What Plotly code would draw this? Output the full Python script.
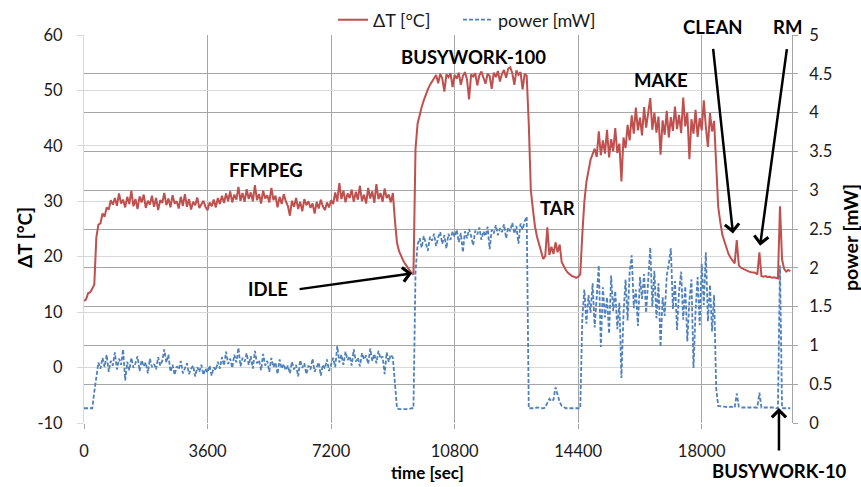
import plotly.graph_objects as go

# ---------------- data ----------------
SAMPLE_SEC = 60  # one reading every 60 s

delta_t = [
    12.0, 12.3, 13.4, 13.6, 14.2, 15.0, 23.5, 25.8, 26.0, 27.8, 27.2, 28.9, 28.5, 30.2, 29.4, 30.6, 29.2, 31.4, 29.6, 30.3,
    28.9, 30.8, 29.5, 31.9, 29.1, 30.4, 28.6, 30.9, 29.8, 31.2, 28.8, 30.1, 29.4, 31.0, 29.0, 30.6, 28.4, 30.2, 29.7, 31.5,
    29.3, 30.5, 28.9, 31.1, 29.6, 30.0, 28.7, 30.8, 29.2, 31.3, 29.0, 30.4, 28.5, 29.9, 29.3, 30.7, 28.8, 29.6, 30.1, 29.0,
    28.4, 29.8, 29.1, 30.3, 28.9, 30.6, 29.5, 31.0, 29.7, 31.4, 30.0, 31.8, 29.8, 31.2, 30.3, 32.6, 30.1, 31.5, 29.9, 32.2,
    30.4, 31.6, 30.0, 32.9, 30.2, 31.3, 29.6, 31.9, 30.5, 31.1, 29.8, 32.4, 30.2, 31.0, 28.9, 30.8, 29.5, 31.3, 30.0, 29.2,
    27.4, 30.1, 29.0, 30.6, 28.6, 29.9, 28.2, 30.4, 29.3, 30.0, 28.8, 29.6, 27.8, 29.9, 28.7, 30.3, 29.1, 28.4, 29.8, 28.9,
    30.2, 29.5, 31.6, 30.0, 33.3, 30.4, 31.9, 29.8, 31.4, 30.6, 32.1, 29.9, 31.7, 30.3, 32.8, 30.0, 31.2, 29.6, 32.4, 30.5,
    31.8, 29.7, 33.1, 30.4, 31.5, 29.9, 32.3, 30.6, 31.2, 29.8, 31.5, 26.5, 22.5, 21.0, 20.0, 19.3, 18.7, 18.1, 17.6, 17.1,
    16.8, 39.5, 44.0, 45.8, 47.0, 48.2, 49.3, 50.2, 51.0, 51.7, 52.2, 52.8, 51.3, 53.0, 52.2, 49.8, 52.9, 52.4, 53.1, 50.6,
    52.8, 52.1, 53.2, 51.0, 52.6, 53.3, 52.0, 48.4, 52.9, 52.5, 53.1, 50.9, 52.7, 53.4, 52.2, 51.2, 53.0, 52.6, 50.3, 53.2,
    52.4, 53.5, 51.6, 53.0, 53.7, 52.3, 53.9, 54.2, 53.1, 51.0, 53.6, 52.8, 53.3, 50.2, 53.0, 52.6, 44.0, 32.0, 28.6, 25.5,
    23.6, 22.2, 21.0, 19.6, 20.1, 25.3, 20.3, 21.8, 20.5, 22.6, 20.8, 22.2, 19.0, 18.2, 17.6, 17.1, 16.8, 16.5, 16.4, 16.2,
    16.4, 16.8, 24.0, 30.0, 33.5, 35.5, 37.5, 38.5, 39.5, 38.0, 42.6, 38.3, 41.0, 38.6, 42.9, 37.9, 41.2, 39.0, 43.2, 38.7,
    40.4, 33.6, 41.5, 39.6, 43.8, 41.0, 45.5, 42.2, 46.9, 42.8, 45.1, 41.9, 47.0, 43.3, 45.6, 48.6, 42.9, 46.0, 42.4, 45.3,
    38.4, 44.6, 42.0, 46.3, 41.5, 45.2, 42.7, 47.1, 43.0, 45.6, 42.3, 48.7, 43.5, 46.0, 37.6, 44.8, 42.2, 46.5, 41.6, 45.0,
    42.8, 48.2, 43.4, 39.8, 45.9, 42.6, 44.5, 37.0, 29.0, 26.3, 24.0, 22.8, 21.5, 20.5, 19.8, 19.3, 18.8, 23.0, 18.5, 18.0,
    17.8, 17.6, 17.5, 17.3, 17.2, 17.2, 17.1, 16.8, 20.8, 16.5, 16.4, 16.5, 16.3, 16.4, 16.2, 16.3, 16.2, 16.1, 29.1, 19.5,
    17.8, 17.3, 17.6, 17.4,
]

power_mw = [
    0.19, 0.19, 0.19, 0.19, 0.19, 0.40, 0.62, 0.78, 0.70, 0.84, 0.72, 0.88, 0.66, 0.80, 0.74, 0.91, 0.69, 0.83, 0.75, 0.95,
    0.55, 0.79, 0.68, 0.84, 0.71, 0.77, 0.86, 0.67, 0.81, 0.73, 0.78, 0.64, 0.83, 0.72, 0.76, 0.69, 0.85, 0.74, 0.80, 0.95,
    0.78, 0.88, 0.66, 0.75, 0.62, 0.73, 0.69, 0.80, 0.64, 0.71, 0.77, 0.63, 0.70, 0.74, 0.60, 0.72, 0.66, 0.75, 0.62, 0.70,
    0.65, 0.74, 0.61, 0.72, 0.68, 0.79, 0.70, 0.85, 0.74, 0.92, 0.76, 0.83, 0.71, 0.88, 0.78, 0.97, 0.73, 0.84, 0.79, 0.90,
    0.75, 0.86, 0.70, 0.93, 0.77, 0.81, 0.68, 0.89, 0.74, 0.80, 0.66, 0.84, 0.72, 0.78, 0.63, 0.82, 0.70, 0.76, 0.68, 0.74,
    0.64, 0.79, 0.69, 0.75, 0.60, 0.81, 0.71, 0.77, 0.63, 0.74, 0.69, 0.83, 0.66, 0.72, 0.78, 0.61, 0.75, 0.70, 0.82, 0.67,
    0.76, 0.84, 0.72, 0.99, 0.78, 0.88, 0.75, 0.92, 0.81, 0.86, 0.74, 0.95, 0.79, 0.84, 0.73, 0.90, 0.82, 0.87, 0.76, 0.96,
    0.80, 0.89, 0.77, 0.93, 0.83, 0.86, 0.63, 0.91, 0.79, 0.88, 0.84, 0.45, 0.19, 0.18, 0.18, 0.18, 0.18, 0.18, 0.18, 0.19,
    0.19, 1.95, 2.30, 2.38, 2.26, 2.41, 2.33, 2.22, 2.40, 2.35, 2.44, 2.28, 2.39, 2.46, 2.31, 2.42, 2.25, 2.44, 2.36, 2.47,
    2.40, 2.49, 2.33, 2.45, 2.20, 2.47, 2.38, 2.50, 2.41, 2.29, 2.48, 2.43, 2.52, 2.36, 2.47, 2.41, 2.53, 2.24, 2.49, 2.44,
    2.55, 2.42, 2.51, 2.46, 2.56, 2.38, 2.52, 2.47, 2.58, 2.44, 2.54, 2.31, 2.57, 2.49, 2.60, 2.66, 0.19, 0.19, 0.19, 0.19,
    0.20, 0.19, 0.19, 0.19, 0.20, 0.26, 0.31, 0.28, 0.30, 0.46, 0.35, 0.27, 0.22, 0.20, 0.19, 0.19, 0.19, 0.19, 0.19, 0.19,
    0.19, 0.19, 1.35, 1.72, 1.28, 1.65, 1.42, 1.80, 1.23, 1.58, 2.03, 0.98, 1.75, 1.36, 1.62, 1.15, 1.90, 1.44, 1.70, 1.21,
    1.55, 0.58, 1.40, 1.85, 1.32, 1.95, 2.16, 1.48, 1.72, 1.25, 1.88, 1.60, 1.92, 1.42, 1.78, 2.26, 1.50, 1.96, 1.35, 1.80,
    0.98, 1.62, 1.38, 1.90, 2.05, 2.25, 1.47, 1.83, 1.20, 1.70, 1.95, 1.33, 1.76, 1.05, 1.58, 1.85, 0.71, 1.44, 1.88, 1.26,
    2.05, 1.52, 2.20, 1.31, 1.78, 1.18, 1.65, 0.45, 0.22, 0.21, 0.21, 0.21, 0.20, 0.20, 0.21, 0.20, 0.20, 0.38, 0.21, 0.20,
    0.20, 0.20, 0.20, 0.20, 0.20, 0.20, 0.20, 0.20, 0.39, 0.20, 0.20, 0.20, 0.20, 0.20, 0.20, 0.20, 0.19, 0.19, 2.03, 0.19,
    0.19, 0.19, 0.19, 0.19,
]

time_sec = [i * SAMPLE_SEC for i in range(len(delta_t))]

x_ticks = [0, 3600, 7200, 10800, 14400, 18000]
x_tick_text = ["0", "3600", "7200", "10800", "14400", "18000"]
y_ticks = [-10, 0, 10, 20, 30, 40, 50, 60]
y_tick_text = ["-10", "0", "10", "20", "30", "40", "50", "60"]
y2_ticks = [0, 0.5, 1, 1.5, 2, 2.5, 3, 3.5, 4, 4.5, 5]
y2_tick_text = ["0", "0.5", "1", "1.5", "2", "2.5", "3", "3.5", "4", "4.5", "5"]

series_names = ["ΔT [°C]", "power [mW]"]

# phase labels: (text, x px, y px)
phase_labels = [
    ("FFMPEG", 266, 170),
    ("BUSYWORK-100", 473, 57),
    ("TAR", 557, 208),
    ("MAKE", 661, 80),
    ("CLEAN", 713, 27),
    ("RM", 787, 27),
    ("IDLE", 268, 289),
    ("BUSYWORK-10", 779, 471),
]
# arrows: (head time, head ΔT, tail dx px, tail dy px)
arrows = [
    (9560, 17.0, -114, 16),
    (18910, 24.2, -20, -186),
    (19700, 22.0, 27, -198),
    (20250, -7.3, 0, 44),
]

# ---------------- figure ----------------
W, H = 861, 487
L, R, T, B = 84, 69, 35, 64
PW, PH = W - L - R, H - T - B


def px_x(px):
    return (px - L) / PW


def px_y(py):
    return (H - B - py) / PH


RED = "#C0504D"
BLUE = "#4F81BD"
TXT = "#1a1a1a"
FONT = "Lato"

fig = go.Figure()
fig.add_trace(go.Scatter(x=time_sec, y=delta_t, name=series_names[0], mode="lines",
                         legend="legend", line=dict(color=RED, width=2)))
fig.add_trace(go.Scatter(x=time_sec, y=power_mw, name=series_names[1], mode="lines",
                         yaxis="y2", legend="legend2",
                         line=dict(color=BLUE, width=1.8, dash="4px,2px")))

annotations = []
for text, x, y in phase_labels:
    annotations.append(dict(text=f"<b>{text}</b>", xref="paper", yref="paper",
                            x=px_x(x), y=px_y(y), showarrow=False,
                            font=dict(family=FONT, size=18.5, color="black"),
                            xanchor="center", yanchor="middle"))
for hx, hy, dx, dy in arrows:
    annotations.append(dict(text="", x=hx, y=hy, xref="x", yref="y", ax=dx, ay=dy,
                            showarrow=True, arrowhead=4, arrowsize=1.1, arrowwidth=2.5,
                            arrowcolor="black", standoff=0))
# axis titles
annotations.append(dict(text="<b>ΔT [°C]</b>", xref="paper", yref="paper", x=px_x(25), y=px_y(238),
                        xanchor="center", yanchor="middle",
                        textangle=-90, showarrow=False, font=dict(family=FONT, size=19, color="black")))
annotations.append(dict(text="<b>power [mW]</b>", xref="paper", yref="paper", x=px_x(851), y=px_y(238),
                        xanchor="center", yanchor="middle",
                        textangle=-90, showarrow=False, font=dict(family=FONT, size=19.5, color="black")))
annotations.append(dict(text="<b>time [sec]</b>", xref="paper", yref="paper", x=px_x(427), y=px_y(472),
                        xanchor="center", yanchor="middle",
                        showarrow=False, font=dict(family=FONT, size=17, color="black")))

legend_common = dict(orientation="h", xanchor="left", yanchor="middle",
                     font=dict(family=FONT, size=18, color=TXT), bgcolor="rgba(0,0,0,0)")

fig.update_layout(
    width=W, height=H,
    margin=dict(l=L, r=R, t=T, b=B, pad=0, autoexpand=False),
    paper_bgcolor="white", plot_bgcolor="white",
    font=dict(family=FONT, size=16, color=TXT),
    showlegend=True,
    legend=dict(x=px_x(333), y=px_y(20), **legend_common),
    legend2=dict(x=px_x(458), y=px_y(20), **legend_common),
    xaxis=dict(range=[0, 20630], tickvals=x_ticks, ticktext=x_tick_text, showgrid=True,
               gridcolor="#a6a6a6", gridwidth=1, zeroline=False, showline=False,
               ticks="outside", ticklen=5, tickcolor="#a6a6a6", ticklabelstandoff=8,
               tickfont=dict(family=FONT, size=16.5, color=TXT)),
    yaxis=dict(range=[-10, 60], tickvals=y_ticks, ticktext=y_tick_text, showgrid=True,
               gridcolor="#d9d9d9", gridwidth=1, zeroline=False, showline=True,
               linecolor="#d9d9d9", ticks="outside", ticklen=6, tickcolor="#d9d9d9",
               ticklabelstandoff=11, tickfont=dict(family=FONT, size=16.5, color=TXT)),
    yaxis2=dict(range=[0, 5], tickvals=y2_ticks, ticktext=y2_tick_text, overlaying="y",
                side="right", showgrid=True, gridcolor="#a6a6a6", gridwidth=1, zeroline=False,
                showline=True, linecolor="#a6a6a6", ticks="outside", ticklen=5,
                tickcolor="#a6a6a6", ticklabelstandoff=8,
                tickfont=dict(family=FONT, size=16.5, color=TXT)),
    annotations=annotations,
)

fig.write_html("out.html")
